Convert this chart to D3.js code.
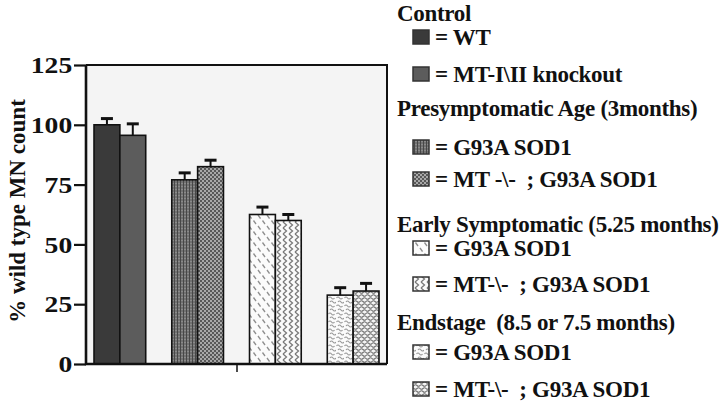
<!DOCTYPE html>
<html><head><meta charset="utf-8">
<script src="https://cdn.jsdelivr.net/npm/d3@7"></script>
<style>
body{margin:0;background:#fff;}
svg text{font-family:"Liberation Serif","Times New Roman",serif;font-weight:bold;fill:#111;}
</style></head><body>
<svg id="chart" width="720" height="409"></svg>
<script>
// ---- data ----
const groups = ["Control", "Presymptomatic", "Early Symptomatic", "Endstage"];
const groupTitles = ["Control", "Presymptomatic Age (3months)", "Early Symptomatic (5.25 months)", "Endstage  (8.5 or 7.5 months)"];
const subKeys = ["a", "b"];
const barGroups = ["Control", "Control", "Presymptomatic", "Presymptomatic", "Early Symptomatic", "Early Symptomatic", "Endstage", "Endstage"];
const barSubs = ["a", "b", "a", "b", "a", "b", "a", "b"];
const barLabels = ["= WT", "= MT-I\\II knockout", "= G93A SOD1", "= MT -\\-  ; G93A SOD1", "= G93A SOD1", "= MT-\\-  ; G93A SOD1", "= G93A SOD1", "= MT-\\-  ; G93A SOD1"];
const barValues = [100, 95.6, 77, 82.5, 62.5, 60, 28.8, 30.5];
const barErrors = [2.6, 4.8, 2.9, 2.7, 3.1, 2.5, 3.1, 3.2];
const yTicks = [0, 25, 50, 75, 100, 125];
const yTitle = "% wild type MN count";

// ---- layout ----
const svg = d3.select("#chart");
const L = 86, R = 387, T = 65, B = 364;

const defs = svg.append("defs");
function pat(id, w, h, build) {
  const p = defs.append("pattern").attr("id", id).attr("patternUnits", "userSpaceOnUse")
    .attr("width", w).attr("height", h);
  build(p);
}
pat("p0", 4, 4, p => p.append("rect").attr("width", 4).attr("height", 4).attr("fill", "#3a3a3a"));
pat("p1", 4, 4, p => p.append("rect").attr("width", 4).attr("height", 4).attr("fill", "#5c5c5c"));
pat("p2", 3, 3, p => {
  p.append("rect").attr("width", 3).attr("height", 3).attr("fill", "#727272");
  p.append("rect").attr("width", 1).attr("height", 3).attr("fill", "#474747");
  p.append("rect").attr("x", 1).attr("width", 2).attr("height", 1).attr("fill", "#8a8a8a");
});
pat("p3", 4, 4, p => {
  p.append("rect").attr("width", 4).attr("height", 4).attr("fill", "#a8a8a8");
  p.append("rect").attr("width", 2).attr("height", 2).attr("fill", "#585858");
  p.append("rect").attr("x", 2).attr("y", 2).attr("width", 2).attr("height", 2).attr("fill", "#585858");
});
pat("p4", 9, 11, p => {
  p.append("rect").attr("width", 9).attr("height", 11).attr("fill", "#fbfbfb");
  p.append("path").attr("d", "M1.5,0.5 L4,4 M6,6 L8.5,9.5").attr("stroke", "#8f8f8f").attr("stroke-width", 1.3).attr("fill", "none");
});
pat("p5", 6, 6, p => {
  p.append("rect").attr("width", 6).attr("height", 6).attr("fill", "#fbfbfb");
  p.append("path").attr("d", "M1,0 L4.5,3 L1,6").attr("stroke", "#7a7a7a").attr("stroke-width", 1.3).attr("fill", "none");
});
pat("p6", 8, 8, p => {
  p.append("rect").attr("width", 8).attr("height", 8).attr("fill", "#fbfbfb");
  p.append("path").attr("d", "M0.5,2 Q2,0 3.5,2 T6.5,2 M2,6 Q3.5,4 5,6 T8,6").attr("stroke", "#9a9a9a").attr("stroke-width", 1.2).attr("fill", "none");
});
pat("p7", 6, 6, p => {
  p.append("rect").attr("width", 6).attr("height", 6).attr("fill", "#f4f4f4");
  p.append("path").attr("d", "M0,1.5 Q1.5,0 3,1.5 T6,1.5 M0,4.5 Q1.5,6 3,4.5 T6,4.5").attr("stroke", "#6e6e6e").attr("stroke-width", 1.1).attr("fill", "none");
});

// plot background
svg.append("rect").attr("x", L).attr("y", T).attr("width", R - L).attr("height", B - T).attr("fill", "#f4f4f4");

const y = d3.scaleLinear().domain([0, 125]).range([B, T]);
const x0 = d3.scaleBand().domain(groups).range([L, R]).paddingInner(0.335).paddingOuter(0.103);
const x1 = d3.scaleBand().domain(subKeys).range([0, x0.bandwidth()]);

const bars = barValues.map((v, i) => ({v, e: barErrors[i], g: barGroups[i], s: barSubs[i], i}));

svg.append("g").selectAll("rect").data(bars).join("rect")
  .attr("x", d => x0(d.g) + x1(d.s))
  .attr("y", d => y(d.v))
  .attr("width", x1.bandwidth())
  .attr("height", d => y(0) - y(d.v))
  .attr("fill", d => `url(#p${d.i})`)
  .attr("stroke", "#111").attr("stroke-width", 1.6);

// error bars (upper only)
const eg = svg.append("g");
eg.selectAll("line.stem").data(bars).join("line").attr("class", "stem")
  .attr("x1", d => x0(d.g) + x1(d.s) + x1.bandwidth() / 2)
  .attr("x2", d => x0(d.g) + x1(d.s) + x1.bandwidth() / 2)
  .attr("y1", d => y(d.v)).attr("y2", d => y(d.v + d.e))
  .attr("stroke", "#111").attr("stroke-width", 2);
eg.selectAll("line.cap").data(bars).join("line").attr("class", "cap")
  .attr("x1", d => x0(d.g) + x1(d.s) + x1.bandwidth() / 2 - 6)
  .attr("x2", d => x0(d.g) + x1(d.s) + x1.bandwidth() / 2 + 6)
  .attr("y1", d => y(d.v + d.e)).attr("y2", d => y(d.v + d.e))
  .attr("stroke", "#111").attr("stroke-width", 3);

// frame
svg.append("path").attr("d", `M${L},${T}H${R}V${B}`).attr("fill", "none").attr("stroke", "#111").attr("stroke-width", 2);
svg.append("path").attr("d", `M${L},${T}V${B}H${R}`).attr("fill", "none").attr("stroke", "#111").attr("stroke-width", 2.6);

// y axis
const ya = svg.append("g").attr("transform", `translate(${L},0)`)
  .call(d3.axisLeft(y).tickValues(yTicks).tickSize(12).tickPadding(0));
ya.select(".domain").remove();
ya.selectAll(".tick line").attr("stroke", "#111").attr("stroke-width", 2.2);
ya.selectAll(".tick text").attr("font-size", 24).attr("fill", "#111")
  .attr("font-family", null).attr("transform", "scale(1.15,1)");

// x axis: single centre tick
const xc = d3.scalePoint().domain(["all"]).range([L, R]).padding(0.5);
const xa = svg.append("g").attr("transform", `translate(0,${B})`)
  .call(d3.axisBottom(xc).tickSize(8).tickFormat(""));
xa.select(".domain").remove();
xa.selectAll(".tick line").attr("stroke", "#111").attr("stroke-width", 1.5);

// y title
svg.append("text").attr("transform", "translate(25,211) rotate(-90)")
  .attr("text-anchor", "middle").attr("font-size", 23).text(yTitle);

// legend
const headBase = [21, 116, 232, 330];
const itemBase = [[45, 82], [155, 187], [256, 292], [360, 397]];
const lg = svg.append("g").attr("font-size", 23).attr("letter-spacing", -0.3);
groups.forEach((g, gi) => {
  lg.append("text").attr("x", 397).attr("y", headBase[gi]).style("white-space", "pre").text(groupTitles[gi]);
  bars.filter(d => d.g === g).forEach((d, k) => {
    const by = itemBase[gi][k];
    lg.append("rect").attr("x", 413).attr("y", by - 15).attr("width", 16).attr("height", 14)
      .attr("fill", `url(#p${d.i})`).attr("stroke", "#333").attr("stroke-width", 1.5);
    lg.append("text").attr("x", 435).attr("y", by).style("white-space", "pre").text(barLabels[d.i]);
  });
});
</script>
</body></html>
